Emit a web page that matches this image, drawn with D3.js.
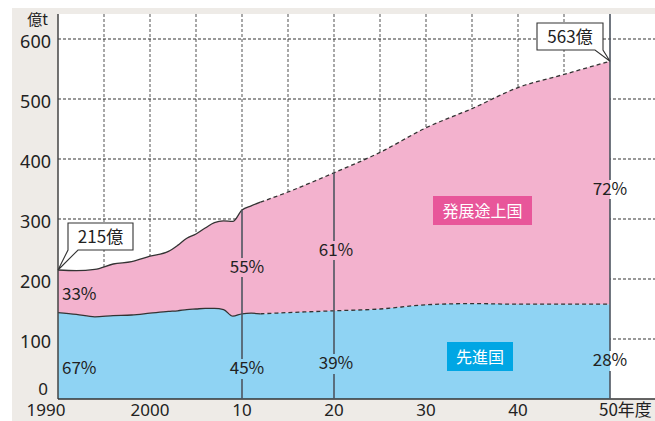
<!DOCTYPE html>
<html>
<head>
<meta charset="utf-8">
<script src="https://cdn.jsdelivr.net/npm/d3@7/dist/d3.min.js"></script>
<style>
  html, body { margin: 0; padding: 0; background: #fff; }
  svg { display: block; }
  text { font-family: "Noto Sans CJK JP", "Noto Sans", sans-serif; fill: #222; }
  text.num { font-family: "Noto Sans", "Noto Sans CJK JP", sans-serif; }
</style>
</head>
<body>
<svg id="chart" width="655" height="421"></svg>
<script>
// CO2排出量の推移と見通し（億t）
const years      = [1990, 1992, 1994, 1996, 1998, 2000, 2002, 2003, 2004, 2005, 2006, 2007, 2008, 2009, 2010, 2011, 2012, 2015, 2020, 2025, 2030, 2035, 2040, 2045, 2050];
const developed  = [144, 141, 137, 139, 140, 143, 146, 147, 149, 150, 151, 151, 149, 138, 142, 143, 142, 144, 147, 150, 157, 159, 158, 158, 158];
const developing = [71, 73, 79, 86, 89, 95, 100, 109, 119, 125, 134, 143, 148, 158, 173, 179, 186, 201, 230, 261, 295, 325, 361, 383, 405];
const lastActualYear = 2012;

const yTicks = [0, 100, 200, 300, 400, 500, 600];
const xTicks = [1990, 2000, 2010, 2020, 2030, 2040, 2050];
const xTickLabels = ["1990", "2000", "10", "20", "30", "40", "50年度"];
const gridYears = [1995, 2000, 2005, 2010, 2015, 2020, 2025, 2030, 2035, 2040, 2045];

const seriesNames = ["先進国", "発展途上国"];
const seriesColors = { "先進国": "#8fd3f3", "発展途上国": "#f3b2ce" };
const badgeColors = { "先進国": "#00a6e4", "発展途上国": "#e8569a" };

// 年ごとのシェア表示
const shareYears = [1990, 2010, 2020, 2050];
const shareDeveloped = ["67%", "45%", "39%", "28%"];
const shareDeveloping = ["33%", "55%", "61%", "72%"];

const callouts = [
  { year: 1990, text: "215億" },
  { year: 2050, text: "563億" }
];

const svg = d3.select("#chart");
const W = 655, H = 421;
const plot = { left: 58, top: 14, right: 655, bottom: 399 };

const x = d3.scaleLinear().domain([1990, 2050]).range([58, 610]);
const y = d3.scaleLinear().domain([0, 600]).range([399, 39]);

const table = years.map((yr, i) => ({ year: yr, "先進国": developed[i], "発展途上国": developing[i] }));
const stack = d3.stack().keys(seriesNames)(table);

// 背景
svg.append("rect").attr("x", 12).attr("y", 8).attr("width", W - 12).attr("height", H - 8).attr("fill", "#eeebe7");
svg.append("rect").attr("x", plot.left).attr("y", plot.top)
  .attr("width", plot.right - plot.left).attr("height", plot.bottom - plot.top).attr("fill", "#fff");

// グリッド
svg.append("g").selectAll("line").data(gridYears).join("line")
  .attr("x1", d => x(d)).attr("x2", d => x(d))
  .attr("y1", plot.top).attr("y2", plot.bottom)
  .attr("stroke", "#7a7a7a").attr("stroke-width", 1.3).attr("stroke-dasharray", "3,2");
svg.append("g").selectAll("line").data(yTicks.filter(d => d > 0)).join("line")
  .attr("x1", plot.left).attr("x2", plot.right)
  .attr("y1", d => y(d)).attr("y2", d => y(d))
  .attr("stroke", "#333").attr("stroke-width", 1.1).attr("stroke-dasharray", "3,2");

// 積み上げ面
const area = d3.area()
  .x(d => x(d.data.year))
  .y0(d => y(d[0])).y1(d => y(d[1]))
  .curve(d3.curveMonotoneX);
svg.append("g").selectAll("path").data(stack).join("path")
  .attr("d", area)
  .attr("fill", d => seriesColors[d.key]);

// 境界線：実績は実線、見通しは破線
const edge = d3.line().x(d => x(d.data.year)).y(d => y(d[1])).curve(d3.curveMonotoneX);
stack.forEach(s => {
  const actual = s.filter(d => d.data.year <= lastActualYear);
  const outlook = s.filter(d => d.data.year >= lastActualYear);
  svg.append("path").attr("d", edge(actual)).attr("fill", "none")
    .attr("stroke", "#333").attr("stroke-width", 1.3);
  svg.append("path").attr("d", edge(outlook)).attr("fill", "none")
    .attr("stroke", "#333").attr("stroke-width", 1.3).attr("stroke-dasharray", "4,3");
});

// 軸
svg.append("line").attr("x1", plot.left).attr("x2", plot.left).attr("y1", plot.top).attr("y2", plot.bottom)
  .attr("stroke", "#444").attr("stroke-width", 1.5);
svg.append("line").attr("x1", plot.left).attr("x2", plot.right).attr("y1", plot.bottom).attr("y2", plot.bottom)
  .attr("stroke", "#333").attr("stroke-width", 1.5);

svg.append("g").selectAll("text").data(yTicks).join("text")
  .attr("class", "num")
  .attr("x", d => d === 0 ? 48 : 51).attr("y", d => d === 0 ? y(d) - 4 : y(d) + 9)
  .attr("text-anchor", "end").attr("font-size", d => d === 0 ? 17 : 18).text(d => d);
svg.append("text").attr("x", 48).attr("y", 25).attr("text-anchor", "end").attr("font-size", 15).text("億t");

svg.append("g").selectAll("text").data(xTicks).join("text")
  .attr("class", (d, i) => i === xTicks.length - 1 ? null : "num")
  .attr("x", (d, i) => i === 0 ? x(d) - 12 : (i === xTicks.length - 1 ? x(d) - 11 : x(d)))
  .attr("y", 416)
  .attr("text-anchor", (d, i) => i === xTicks.length - 1 ? "start" : "middle")
  .attr("font-size", 17)
  .text((d, i) => xTickLabels[i]);

// シェア表示と縦線
const labelFont = 17;
const totalAt = yr => { const i = years.indexOf(yr); return developed[i] + developing[i]; };
const shareLayout = [
  { year: 1990, dx: 4, anchor: "start", upY: 300, lowY: 374, line: false },
  { year: 2010, dx: 5, anchor: "middle", upY: 273, lowY: 374, line: true },
  { year: 2020, dx: 2, anchor: "middle", upY: 256, lowY: 369, line: true },
  { year: 2050, dx: 0, anchor: "middle", upY: 195, lowY: 366, line: true }
];
shareLayout.forEach((s, i) => {
  if (s.line) {
    const top = s.year === 2050 ? plot.top : y(totalAt(s.year));
    const gaps = [[s.upY - 15, s.upY + 4], [s.lowY - 15, s.lowY + 5]];
    const segs = [[top, gaps[0][0]], [gaps[0][1], gaps[1][0]], [gaps[1][1], plot.bottom]];
    segs.forEach(([a, b]) => {
      svg.append("line").attr("x1", x(s.year)).attr("x2", x(s.year)).attr("y1", a).attr("y2", b)
        .attr("stroke", "#4d5560").attr("stroke-width", 1.6);
    });
  }
  svg.append("text").attr("x", x(s.year) + s.dx).attr("y", s.upY)
    .attr("text-anchor", s.anchor).attr("font-size", labelFont).text(shareDeveloping[shareYears.indexOf(s.year)]);
  svg.append("text").attr("x", x(s.year) + s.dx).attr("y", s.lowY)
    .attr("text-anchor", s.anchor).attr("font-size", labelFont).text(shareDeveloped[shareYears.indexOf(s.year)]);
});

// 凡例バッジ
const badges = [
  { key: "発展途上国", x: 433, y: 196, w: 99, h: 29 },
  { key: "先進国", x: 447, y: 342, w: 66, h: 29 }
];
badges.forEach(b => {
  svg.append("rect").attr("x", b.x).attr("y", b.y).attr("width", b.w).attr("height", b.h)
    .attr("fill", badgeColors[b.key]);
  svg.append("text").attr("x", b.x + b.w / 2).attr("y", b.y + b.h / 2 + 6)
    .attr("text-anchor", "middle").attr("font-size", 16).style("fill", "#fff").text(b.key);
});

// 吹き出し（合計値）
const balloonBoxes = [
  { bx: 68, by: 223, bw: 65, bh: 27, tail: [68, 78] },
  { bx: 537, by: 23, bw: 66, bh: 27, tail: [595, 603] }
];
callouts.forEach((c, i) => {
  const b = balloonBoxes[i];
  const px = x(c.year), py = y(totalAt(c.year));
  const bottom = b.by + b.bh;
  const p = d3.path();
  p.moveTo(b.bx, b.by);
  p.lineTo(b.bx + b.bw, b.by);
  p.lineTo(b.bx + b.bw, bottom);
  p.lineTo(b.tail[1], bottom);
  p.lineTo(px, py);
  p.lineTo(b.tail[0], bottom);
  p.lineTo(b.bx, bottom);
  p.closePath();
  svg.append("path").attr("d", p.toString()).attr("fill", "#fff")
    .attr("stroke", "#333").attr("stroke-width", 1.1).attr("stroke-linejoin", "miter");
  svg.append("text").attr("x", b.bx + b.bw / 2).attr("y", b.by + 20)
    .attr("text-anchor", "middle").attr("font-size", 17).text(c.text);
});
</script>
</body>
</html>
